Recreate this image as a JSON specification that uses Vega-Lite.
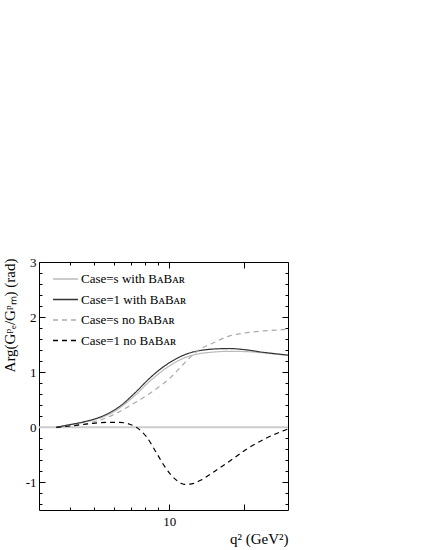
{
  "$schema": "https://vega.github.io/schema/vega-lite/v6.json",
  "width": 249,
  "height": 248,
  "autosize": {"type": "none"},
  "padding": {"left": 39, "top": 262, "right": 137, "bottom": 40},
  "background": "white",
  "config": {
    "view": {"stroke": null},
    "axis": {
      "grid": false,
      "domainColor": "#000000",
      "tickColor": "#000000",
      "domainWidth": 1,
      "tickWidth": 1,
      "labelFont": "Liberation Serif",
      "labelFontSize": 13,
      "labelColor": "#000000",
      "titleFont": "Liberation Serif",
      "titleFontSize": 15,
      "titleFontWeight": "normal",
      "titleColor": "#000000",
      "labelFlush": false,
      "labelOverlap": false,
      "labelBound": false
    }
  },
  "data": {
    "values": [
      {"q": 3.52, "phase": 0.0, "series": "Case=s with"},
      {"q": 4, "phase": 0.045, "series": "Case=s with"},
      {"q": 4.5, "phase": 0.09, "series": "Case=s with"},
      {"q": 5, "phase": 0.14, "series": "Case=s with"},
      {"q": 5.5, "phase": 0.2, "series": "Case=s with"},
      {"q": 6, "phase": 0.285, "series": "Case=s with"},
      {"q": 6.5, "phase": 0.39, "series": "Case=s with"},
      {"q": 7, "phase": 0.51, "series": "Case=s with"},
      {"q": 7.5, "phase": 0.63, "series": "Case=s with"},
      {"q": 8, "phase": 0.755, "series": "Case=s with"},
      {"q": 9, "phase": 0.96, "series": "Case=s with"},
      {"q": 10, "phase": 1.11, "series": "Case=s with"},
      {"q": 11, "phase": 1.22, "series": "Case=s with"},
      {"q": 12, "phase": 1.29, "series": "Case=s with"},
      {"q": 13, "phase": 1.33, "series": "Case=s with"},
      {"q": 15, "phase": 1.365, "series": "Case=s with"},
      {"q": 17.5, "phase": 1.38, "series": "Case=s with"},
      {"q": 20, "phase": 1.375, "series": "Case=s with"},
      {"q": 24, "phase": 1.35, "series": "Case=s with"},
      {"q": 28, "phase": 1.32, "series": "Case=s with"},
      {"q": 30, "phase": 1.31, "series": "Case=s with"},

      {"q": 3.52, "phase": 0.0, "series": "Case=1 with"},
      {"q": 4, "phase": 0.05, "series": "Case=1 with"},
      {"q": 4.5, "phase": 0.095, "series": "Case=1 with"},
      {"q": 5, "phase": 0.15, "series": "Case=1 with"},
      {"q": 5.5, "phase": 0.22, "series": "Case=1 with"},
      {"q": 6, "phase": 0.31, "series": "Case=1 with"},
      {"q": 6.5, "phase": 0.42, "series": "Case=1 with"},
      {"q": 7, "phase": 0.55, "series": "Case=1 with"},
      {"q": 7.5, "phase": 0.68, "series": "Case=1 with"},
      {"q": 8, "phase": 0.81, "series": "Case=1 with"},
      {"q": 9, "phase": 1.02, "series": "Case=1 with"},
      {"q": 10, "phase": 1.17, "series": "Case=1 with"},
      {"q": 11, "phase": 1.275, "series": "Case=1 with"},
      {"q": 12, "phase": 1.345, "series": "Case=1 with"},
      {"q": 13, "phase": 1.385, "series": "Case=1 with"},
      {"q": 15, "phase": 1.42, "series": "Case=1 with"},
      {"q": 17.5, "phase": 1.43, "series": "Case=1 with"},
      {"q": 20, "phase": 1.41, "series": "Case=1 with"},
      {"q": 24, "phase": 1.36, "series": "Case=1 with"},
      {"q": 28, "phase": 1.325, "series": "Case=1 with"},
      {"q": 30, "phase": 1.31, "series": "Case=1 with"},

      {"q": 3.52, "phase": 0.0, "series": "Case=s no"},
      {"q": 4, "phase": 0.025, "series": "Case=s no"},
      {"q": 4.5, "phase": 0.055, "series": "Case=s no"},
      {"q": 5, "phase": 0.1, "series": "Case=s no"},
      {"q": 5.5, "phase": 0.16, "series": "Case=s no"},
      {"q": 6, "phase": 0.235, "series": "Case=s no"},
      {"q": 6.5, "phase": 0.315, "series": "Case=s no"},
      {"q": 7, "phase": 0.4, "series": "Case=s no"},
      {"q": 7.5, "phase": 0.48, "series": "Case=s no"},
      {"q": 8, "phase": 0.56, "series": "Case=s no"},
      {"q": 9, "phase": 0.72, "series": "Case=s no"},
      {"q": 10, "phase": 0.88, "series": "Case=s no"},
      {"q": 11, "phase": 1.07, "series": "Case=s no"},
      {"q": 12, "phase": 1.25, "series": "Case=s no"},
      {"q": 13, "phase": 1.385, "series": "Case=s no"},
      {"q": 15, "phase": 1.53, "series": "Case=s no"},
      {"q": 17.5, "phase": 1.66, "series": "Case=s no"},
      {"q": 20, "phase": 1.71, "series": "Case=s no"},
      {"q": 24, "phase": 1.75, "series": "Case=s no"},
      {"q": 28, "phase": 1.77, "series": "Case=s no"},
      {"q": 30, "phase": 1.78, "series": "Case=s no"},

      {"q": 3.52, "phase": 0.0, "series": "Case=1 no"},
      {"q": 4.11, "phase": 0.03, "series": "Case=1 no"},
      {"q": 4.79, "phase": 0.065, "series": "Case=1 no"},
      {"q": 5.59, "phase": 0.09, "series": "Case=1 no"},
      {"q": 6.33, "phase": 0.09, "series": "Case=1 no"},
      {"q": 6.9, "phase": 0.06, "series": "Case=1 no"},
      {"q": 7.38, "phase": 0.0, "series": "Case=1 no"},
      {"q": 8.1, "phase": -0.17, "series": "Case=1 no"},
      {"q": 8.88, "phase": -0.46, "series": "Case=1 no"},
      {"q": 9.59, "phase": -0.71, "series": "Case=1 no"},
      {"q": 10.2, "phase": -0.87, "series": "Case=1 no"},
      {"q": 10.85, "phase": -0.98, "series": "Case=1 no"},
      {"q": 11.5, "phase": -1.035, "series": "Case=1 no"},
      {"q": 12.3, "phase": -1.025, "series": "Case=1 no"},
      {"q": 13.5, "phase": -0.95, "series": "Case=1 no"},
      {"q": 15.2, "phase": -0.8, "series": "Case=1 no"},
      {"q": 17.8, "phase": -0.59, "series": "Case=1 no"},
      {"q": 20.7, "phase": -0.38, "series": "Case=1 no"},
      {"q": 24.2, "phase": -0.21, "series": "Case=1 no"},
      {"q": 28.6, "phase": -0.065, "series": "Case=1 no"},
      {"q": 30, "phase": -0.03, "series": "Case=1 no"}
    ]
  },
  "resolve": {"axis": {"x": "independent", "y": "independent"}},
  "layer": [
    {
      "data": {"values": [{"zero": 0}]},
      "mark": {"type": "rule", "color": "#cccccc", "strokeWidth": 2},
      "encoding": {
        "y": {"field": "zero", "type": "quantitative", "scale": {"domain": [-1.5, 3], "nice": false, "zero": false}, "axis": null}
      }
    },
    {
      "mark": {"type": "line", "strokeWidth": 1.2, "interpolate": "monotone", "clip": true},
      "encoding": {
        "x": {
          "field": "q", "type": "quantitative",
          "scale": {"type": "log", "domain": [3, 30], "nice": false},
          "axis": {
            "orient": "bottom", "values": [10, 20], "tickSize": -6,
            "labelExpr": "datum.value == 10 ? '10' : ''",
            "labelPadding": 11, "labelBaseline": "top",
            "title": "q\u00B2 (GeV\u00B2)", "titleAlign": "right", "titleAnchor": "end",
            "titleX": 249, "titleY": 33, "titleBaseline": "alphabetic"
          }
        },
        "y": {
          "field": "phase", "type": "quantitative",
          "scale": {"domain": [-1.5, 3], "nice": false, "zero": false},
          "axis": {
            "orient": "left", "values": [-1, 0, 1, 2, 3], "tickSize": -6,
            "labelPadding": 9, "labelExpr": "datum.value",
            "title": "Arg(G\u1D56\u2091/G\u1D56\u2098) (rad)",
            "titleAlign": "right", "titleAnchor": "end", "titleAngle": -90,
            "titleX": -25, "titleY": -4, "titleBaseline": "alphabetic"
          }
        },
        "color": {
          "field": "series", "type": "nominal",
          "scale": {"domain": ["Case=s with", "Case=1 with", "Case=s no", "Case=1 no"], "range": ["#bbbbbb", "#333333", "#aaaaaa", "#000000"]},
          "legend": {
            "title": null, "orient": "none", "legendX": 13, "legendY": 7,
            "symbolType": "stroke", "symbolSize": 625, "symbolStrokeWidth": 1.3,
            "labelFont": "Liberation Serif", "labelFontSize": 13, "labelColor": "#000000",
            "labelOffset": 2, "rowPadding": 0.5, "clipHeight": 20, "padding": 0,
            "labelExpr": "datum.label + ' B\u1D00B\u1D00\u0280'", "labelLimit": 300
          }
        },
        "strokeDash": {
          "field": "series", "type": "nominal",
          "scale": {"domain": ["Case=s with", "Case=1 with", "Case=s no", "Case=1 no"], "range": [[1, 0], [1, 0], [5, 4], [5, 4]]},
          "legend": {
            "title": null, "orient": "none", "legendX": 13, "legendY": 7,
            "symbolType": "stroke", "symbolSize": 625, "symbolStrokeWidth": 1.3,
            "labelFont": "Liberation Serif", "labelFontSize": 13, "labelColor": "#000000",
            "labelOffset": 2, "rowPadding": 0.5, "clipHeight": 20, "padding": 0,
            "labelExpr": "datum.label + ' B\u1D00B\u1D00\u0280'", "labelLimit": 300
          }
        }
      }
    },
    {
      "mark": {"type": "point", "opacity": 0},
      "encoding": {
        "x": {"field": "q", "type": "quantitative", "axis": {"orient": "bottom", "values": [4, 5, 6, 7, 8, 9], "tickSize": -3, "labels": false, "domain": false, "title": null}},
        "y": {"field": "phase", "type": "quantitative", "axis": {"orient": "left", "values": [-1.4, -1.2, -0.8, -0.6, -0.4, -0.2, 0.2, 0.4, 0.6, 0.8, 1.2, 1.4, 1.6, 1.8, 2.2, 2.4, 2.6, 2.8], "tickSize": -3, "labels": false, "domain": false, "title": null}}
      }
    },
    {
      "mark": {"type": "point", "opacity": 0},
      "encoding": {
        "x": {"field": "q", "type": "quantitative", "axis": {"orient": "top", "values": [10, 20], "tickSize": -6, "labels": false, "title": null}},
        "y": {"field": "phase", "type": "quantitative", "axis": {"orient": "right", "values": [-1, 0, 1, 2, 3], "tickSize": -6, "labels": false, "title": null}}
      }
    },
    {
      "mark": {"type": "point", "opacity": 0},
      "encoding": {
        "x": {"field": "q", "type": "quantitative", "axis": {"orient": "top", "values": [4, 5, 6, 7, 8, 9], "tickSize": -3, "labels": false, "domain": false, "title": null}},
        "y": {"field": "phase", "type": "quantitative", "axis": {"orient": "right", "values": [-1.4, -1.2, -0.8, -0.6, -0.4, -0.2, 0.2, 0.4, 0.6, 0.8, 1.2, 1.4, 1.6, 1.8, 2.2, 2.4, 2.6, 2.8], "tickSize": -3, "labels": false, "domain": false, "title": null}}
      }
    }
  ]
}
